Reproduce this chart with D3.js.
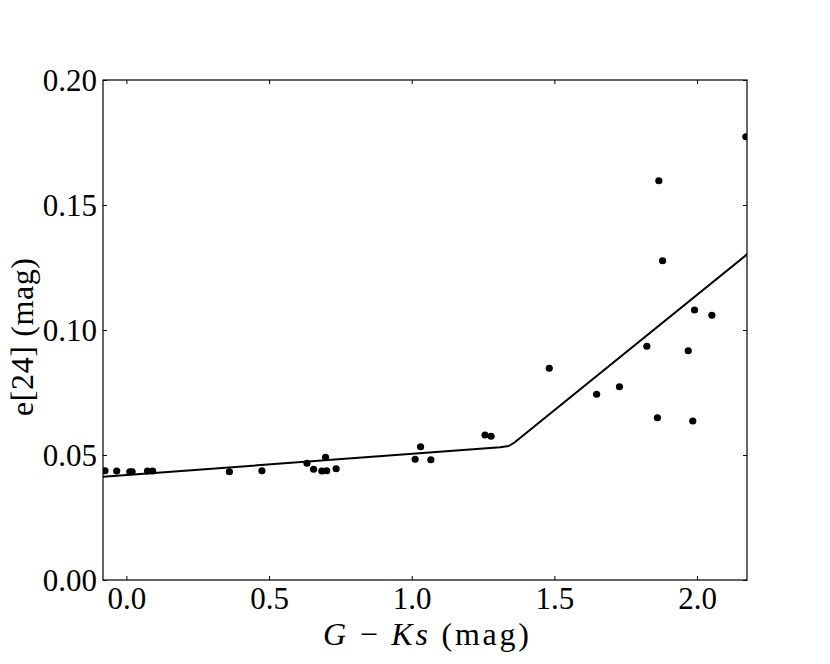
<!DOCTYPE html>
<html><head><meta charset="utf-8">
<script src="https://cdn.jsdelivr.net/npm/d3@7"></script>
<style>
html,body{margin:0;padding:0;background:#fff;}
text{font-family:"Liberation Serif","DejaVu Serif",serif;fill:#000;}
</style></head>
<body><svg id="c" width="830" height="664"></svg>
<script>
// data
const pointX = [-0.075,-0.034,0.012,0.020,0.074,0.092,0.361,0.475,0.633,0.656,0.685,0.702,0.698,0.735,
  1.012,1.031,1.067,1.257,1.278,1.482,1.648,1.728,1.824,1.861,1.866,1.879,1.969,1.985,1.991,2.052,2.171];
const pointY = [0.0437,0.0436,0.0433,0.0433,0.0436,0.0436,0.0433,0.0437,0.0467,0.0443,0.0436,0.0437,0.0491,0.0445,
  0.0483,0.0533,0.0481,0.0580,0.0575,0.0847,0.0743,0.0773,0.0935,0.0649,0.1597,0.1277,0.0917,0.0636,0.1080,0.1059,0.1773];
const lineX = [-0.082,1.31,1.34,1.36,2.18];
const lineY = [0.0413,0.0531,0.0536,0.0550,0.1307];
const xTicks = [0.0,0.5,1.0,1.5,2.0];
const yTicks = [0.00,0.05,0.10,0.15,0.20];
const xDomain = [-0.082,2.175];
const yDomain = [0,0.20];

const L=103,R=747,T=80,B=580;
const svg=d3.select("#c");
const x=d3.scaleLinear().domain(xDomain).range([L,R]);
const y=d3.scaleLinear().domain(yDomain).range([B,T]);

svg.append("clipPath").attr("id","clip").append("rect")
  .attr("x",L).attr("y",T).attr("width",R-L).attr("height",B-T);

const g=svg.append("g").attr("clip-path","url(#clip)");
const line=d3.line().x(d=>x(d[0])).y(d=>y(d[1]));
g.append("path").datum(lineX.map((v,i)=>[v,lineY[i]]))
  .attr("d",line).attr("fill","none").attr("stroke","#000").attr("stroke-width",2)
  .attr("stroke-linejoin","round");
g.selectAll("circle").data(pointX.map((v,i)=>[v,pointY[i]])).enter().append("circle")
  .attr("cx",d=>x(d[0])).attr("cy",d=>y(d[1])).attr("r",3.6).attr("fill","#000");

// axes (ticks inward on all four sides)
const fs=31;
const axB=svg.append("g").attr("transform",`translate(0,${B})`)
  .call(d3.axisBottom(x).tickValues(xTicks).tickSize(-4).tickPadding(7).tickFormat(d3.format(".1f")));
const axT=svg.append("g").attr("transform",`translate(0,${T})`)
  .call(d3.axisTop(x).tickValues(xTicks).tickSize(-4).tickFormat(""));
const axL=svg.append("g").attr("transform",`translate(${L},0)`)
  .call(d3.axisLeft(y).tickValues(yTicks).tickSize(-4).tickPadding(10).tickFormat(d3.format(".2f")));
const axRt=svg.append("g").attr("transform",`translate(${R},0)`)
  .call(d3.axisRight(y).tickValues(yTicks).tickSize(-4).tickFormat(""));
[axB,axT,axL,axRt].forEach(a=>{
  a.select(".domain").remove();
  a.selectAll(".tick line").attr("stroke","#000").attr("stroke-width",1);
  a.selectAll("text").style("font-size",fs+"px").attr("font-family",null);
});
axB.selectAll("text").attr("dy","0.72em");
axL.selectAll("text").attr("dy","0.34em").attr("x",-6);

svg.append("rect").attr("x",L).attr("y",T).attr("width",R-L).attr("height",B-T)
  .attr("fill","none").attr("stroke","#000").attr("stroke-width",1.2);

// axis labels
const xl=svg.append("text").attr("x",426).attr("y",645).attr("text-anchor","middle")
  .style("font-size","32px").attr("textLength",206).attr("lengthAdjust","spacing");
xl.append("tspan").attr("font-style","italic").text("G");
xl.append("tspan").text(" \u2212 ");
xl.append("tspan").attr("font-style","italic").text("Ks");
xl.append("tspan").text(" (mag)");

svg.append("text").attr("transform",`translate(33,337) rotate(-90)`)
  .attr("text-anchor","middle").style("font-size","32px")
  .attr("textLength",158).attr("lengthAdjust","spacing").text("e[24] (mag)");
</script></body></html>
